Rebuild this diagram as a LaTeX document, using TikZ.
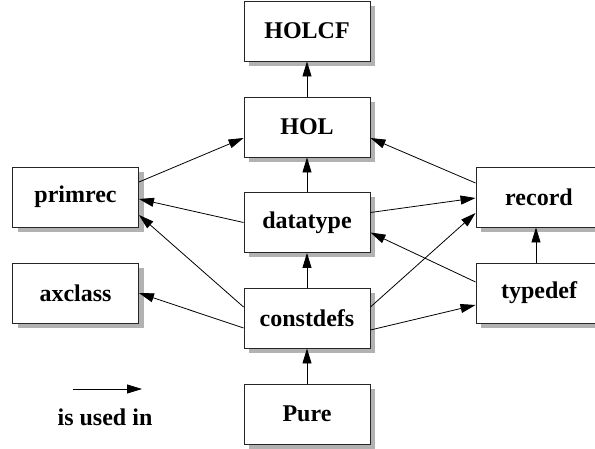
\documentclass[tikz,border=0pt]{standalone}
\usepackage{fontspec}
\setmainfont{Liberation Serif}
\usetikzlibrary{arrows.meta,shadows}
\begin{document}
\begin{tikzpicture}[x=1pt,y=-1pt,
  box/.style={draw=black!85,line width=0.9pt,fill=white,minimum width=126pt,minimum height=60pt,inner sep=0pt,
    font=\fontsize{24}{28}\selectfont\bfseries,
    drop shadow={shadow xshift=5pt,shadow yshift=-5pt,fill=black!30,opacity=1}},
  arr/.style={-{Triangle[length=15pt,width=9pt]},line width=0.8pt,black},
  lbl/.style={font=\fontsize{24}{28}\selectfont\bfseries,inner sep=0pt}]
\useasboundingbox (0,0) rectangle (595,449);
\node[box] (holcf) at (307,31) {HOLCF};
\node[box] (hol) at (307,127) {HOL};
\node[box] (primrec) at (75.5,197) {primrec};
\node[box] (datatype) at (307,222.5) {datatype};
\node[box] (record) at (539,197) {record};
\node[box] (axclass) at (75.5,293) {axclass};
\node[box] (constdefs) at (307,318) {constdefs};
\node[box] (typedef) at (539,293) {typedef};
\node[box] (pure) at (307,414) {Pure};
\draw[arr] (hol.north) -- (holcf.south);
\draw[arr] (datatype.north) -- (hol.south);
\draw[arr] ([yshift=15pt]primrec.east) -- ([yshift=-11pt]hol.west);
\draw[arr] ([yshift=14pt]record.west) -- ([yshift=-11pt]hol.east);
\draw[arr] (datatype.west) -- ([yshift=-2pt]primrec.east);
\draw[arr] ([yshift=10pt]datatype.east) -- ([yshift=-1pt]record.west);
\draw[arr] ([yshift=11pt]constdefs.west) -- ([yshift=-18pt]primrec.east);
\draw[arr] ([yshift=-10pt]constdefs.west) -- (axclass.east);
\draw[arr] ([yshift=11pt]constdefs.east) -- ([yshift=-16pt]record.west);
\draw[arr] ([yshift=-12pt]constdefs.east) -- ([yshift=-12pt]typedef.west);
\draw[arr] ([yshift=11pt]typedef.west) -- ([yshift=-10pt]datatype.east);
\draw[arr] ([xshift=-3pt]typedef.north) -- ([xshift=-3pt]record.south);
\draw[arr] (constdefs.north) -- (datatype.south);
\draw[arr] (pure.north) -- (constdefs.south);
\coordinate (la) at (73,389);
\coordinate (lb) at (142,389);
\draw[arr] (la) -- (lb);
\node[lbl] (legend) at (105,417) {is used in};
\end{tikzpicture}
\end{document}
